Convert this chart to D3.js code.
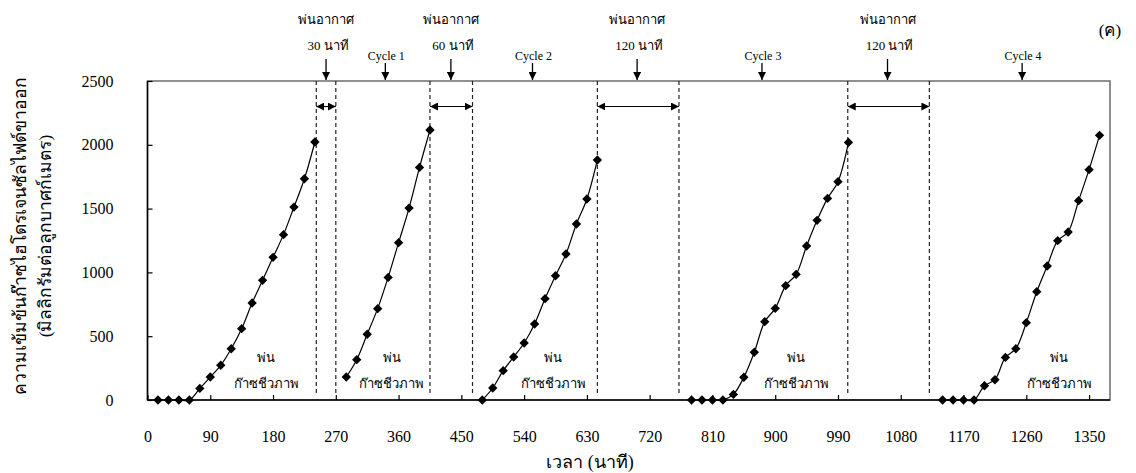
<!DOCTYPE html>
<html>
<head>
<meta charset="utf-8">
<script src="https://cdn.jsdelivr.net/npm/d3@7"></script>
<style>
  body { margin: 0; background: #fff; }
  text { font-family: "Liberation Serif", "Times New Roman", serif; font-weight: normal; fill: #000; }
</style>
</head>
<body>
<div id="container"></div>
<script>
// data (minutes, mg/m3)
const c1Time = [15, 30, 45, 60, 75, 90, 105, 120, 135, 150, 165, 180, 195, 210, 225, 240];
const c1Val  = [0, 0, 0, 0, 91, 180, 272, 402, 559, 760, 938, 1118, 1296, 1512, 1734, 2022];
const c2Time = [285, 300, 315, 330, 345, 360, 375, 390, 405];
const c2Val  = [180, 316, 515, 716, 961, 1233, 1504, 1823, 2116];
const c3Time = [480, 495, 510, 525, 540, 555, 570, 585, 600, 615, 630, 645];
const c3Val  = [0, 94, 230, 337, 447, 596, 794, 974, 1144, 1379, 1575, 1881];
const c4Time = [780, 795, 810, 825, 840, 855, 870, 885, 900, 915, 930, 945, 960, 975, 990, 1005];
const c4Val  = [0, 0, 0, 0, 44, 178, 374, 614, 718, 896, 985, 1207, 1408, 1580, 1711, 2019];
const c5Time = [1140, 1155, 1170, 1185, 1200, 1215, 1230, 1245, 1260, 1275, 1290, 1305, 1320, 1335, 1350, 1365];
const c5Val  = [0, 0, 0, 0, 112, 159, 334, 402, 606, 849, 1050, 1249, 1317, 1562, 1805, 2074];

const xTicks = [0, 90, 180, 270, 360, 450, 540, 630, 720, 810, 900, 990, 1080, 1170, 1260, 1350];
const yTicks = [0, 500, 1000, 1500, 2000, 2500];

// air-purge windows (start, end) and their labels
const purgeStart = [242, 405, 645, 1004];
const purgeEnd   = [270, 466, 762, 1121];
const purgeArrow = [256, 435, 702, 1061];
const purgeLabel = ["30 นาที", "60 นาที", "120 นาที", "120 นาที"];

const cycleArrow = [341, 552, 881, 1254];
const cycleLabel = ["Cycle 1", "Cycle 2", "Cycle 3", "Cycle 4"];

// "พ่น ก๊าซชีวภาพ" label positions (minutes)
const bioLabelX = [170, 350, 582, 930, 1307];

const W = 1136, H = 473;
const pLeft = 147.5, pRight = 1110, pTop = 81, pBottom = 400;

const svg = d3.select('#container')
    .append('svg')
        .attr('width', W)
        .attr('height', H);

const x = d3.scaleLinear().domain([0, 1380]).range([pLeft, pRight]);
const y = d3.scaleLinear().domain([0, 2500]).range([pBottom, pTop]);

// arrow heads
const defs = svg.append("defs");
defs.append("marker")
    .attr("id", "head")
    .attr("viewBox", "0 0 10 10")
    .attr("refX", 10).attr("refY", 5)
    .attr("markerWidth", 8).attr("markerHeight", 8)
    .attr("markerUnits", "userSpaceOnUse")
    .attr("orient", "auto-start-reverse")
    .append("path")
    .attr("d", "M0,0 L10,5 L0,10 Z")
    .attr("fill", "#000");

// plot frame (top/right in grey)
svg.append("rect")
    .attr("x", pLeft).attr("y", pTop)
    .attr("width", pRight - pLeft).attr("height", pBottom - pTop)
    .attr("fill", "none")
    .attr("stroke", "#6b6b6b")
    .attr("stroke-width", 1.5);

// dashed purge boundaries
const bounds = purgeStart.concat(purgeEnd);
svg.append("g").selectAll("line")
    .data(bounds)
    .join("line")
        .attr("x1", d => x(d)).attr("x2", d => x(d))
        .attr("y1", pTop).attr("y2", pBottom - 4)
        .attr("stroke", "#222")
        .attr("stroke-width", 1.2)
        .attr("stroke-dasharray", "4,3");

// double arrows between boundaries
svg.append("g").selectAll("line")
    .data(purgeStart)
    .join("line")
        .attr("x1", d => x(d)).attr("x2", (d, i) => x(purgeEnd[i]))
        .attr("y1", y(2300)).attr("y2", y(2300))
        .attr("stroke", "#000")
        .attr("stroke-width", 1.2)
        .attr("marker-start", "url(#head)")
        .attr("marker-end", "url(#head)");

// axes
const xAxis = d3.axisBottom(x).tickValues(xTicks).tickFormat(d3.format("d"))
    .tickSize(-5).tickPadding(28);
const gx = svg.append("g")
    .attr("transform", `translate(0,${pBottom})`)
    .attr("font-family", "Liberation Serif")
    .call(xAxis);
gx.select(".domain").attr("stroke", "#000").attr("stroke-width", 1.5)
    .attr("d", `M${pLeft},0H${pRight}`);
gx.selectAll(".tick line").attr("stroke", "#000").attr("stroke-width", 1.2);
gx.selectAll(".tick text").attr("font-size", 16).attr("dy", "0.9em");

const yAxis = d3.axisLeft(y).tickValues(yTicks).tickFormat(d3.format("d"))
    .tickSize(-5).tickPadding(34);
const gy = svg.append("g")
    .attr("transform", `translate(${pLeft},0)`)
    .attr("font-family", "Liberation Serif")
    .call(yAxis);
gy.select(".domain").attr("stroke", "#000").attr("stroke-width", 1.5)
    .attr("d", `M0,${pBottom}V${pTop}`);
gy.selectAll(".tick line").attr("stroke", "#000").attr("stroke-width", 1.2);
gy.selectAll(".tick text").attr("font-size", 16);

// series
const series = [
    d3.zip(c1Time, c1Val),
    d3.zip(c2Time, c2Val),
    d3.zip(c3Time, c3Val),
    d3.zip(c4Time, c4Val),
    d3.zip(c5Time, c5Val)
];

const line = d3.line()
    .x(d => x(d[0]))
    .y(d => y(d[1]))
    .curve(d3.curveCatmullRom.alpha(0.5));

svg.append("g").selectAll("path")
    .data(series)
    .join("path")
        .attr("d", line)
        .attr("fill", "none")
        .attr("stroke", "#000")
        .attr("stroke-width", 1.2);

const diamond = d3.symbol().type(d3.symbolDiamond2).size(56);
svg.append("g").selectAll("path")
    .data(series.flat())
    .join("path")
        .attr("d", diamond)
        .attr("transform", d => `translate(${x(d[0])},${y(d[1])})`)
        .attr("fill", "#000");

// biogas labels
const bio = svg.append("g");
bio.selectAll("text.a")
    .data(bioLabelX)
    .join("text")
        .attr("class", "a")
        .attr("x", d => x(d)).attr("y", 362)
        .attr("text-anchor", "middle")
        .attr("font-size", 13)
        .text("พ่น");
bio.selectAll("text.b")
    .data(bioLabelX)
    .join("text")
        .attr("class", "b")
        .attr("x", d => x(d)).attr("y", 388)
        .attr("text-anchor", "middle")
        .attr("font-size", 13)
        .text("ก๊าซชีวภาพ");

// top annotations
const ann = svg.append("g");
purgeArrow.forEach((m, i) => {
    ann.append("line")
        .attr("x1", x(m)).attr("x2", x(m))
        .attr("y1", 59).attr("y2", pTop - 1)
        .attr("stroke", "#000").attr("stroke-width", 1.3)
        .attr("marker-end", "url(#head)");
    ann.append("text")
        .attr("x", x(m)).attr("y", 24)
        .attr("text-anchor", "middle").attr("font-size", 13)
        .text("พ่นอากาศ");
    ann.append("text")
        .attr("x", x(m) + 2).attr("y", 50)
        .attr("text-anchor", "middle").attr("font-size", 13)
        .text(purgeLabel[i]);
});
cycleArrow.forEach((m, i) => {
    ann.append("line")
        .attr("x1", x(m)).attr("x2", x(m))
        .attr("y1", 63).attr("y2", pTop - 1)
        .attr("stroke", "#000").attr("stroke-width", 1.3)
        .attr("marker-end", "url(#head)");
    ann.append("text")
        .attr("x", x(m) + 1).attr("y", 60)
        .attr("text-anchor", "middle").attr("font-size", 12)
        .text(cycleLabel[i]);
});

svg.append("text")
    .attr("x", 1110).attr("y", 36)
    .attr("text-anchor", "middle").attr("font-size", 17)
    .text("(ค)");

// axis titles
svg.append("text")
    .attr("x", 590).attr("y", 468)
    .attr("text-anchor", "middle").attr("font-size", 18)
    .text("เวลา (นาที)");

svg.append("text")
    .attr("transform", "translate(26,236) rotate(-90)")
    .attr("text-anchor", "middle").attr("font-size", 17.5)
    .text("ความเข้มข้นก๊าซไฮโดรเจนซัลไฟด์ขาออก");
svg.append("text")
    .attr("transform", "translate(51,236) rotate(-90)")
    .attr("text-anchor", "middle").attr("font-size", 17.5)
    .text("(มิลลิกรัมต่อลูกบาศก์เมตร)");
</script>
</body>
</html>
